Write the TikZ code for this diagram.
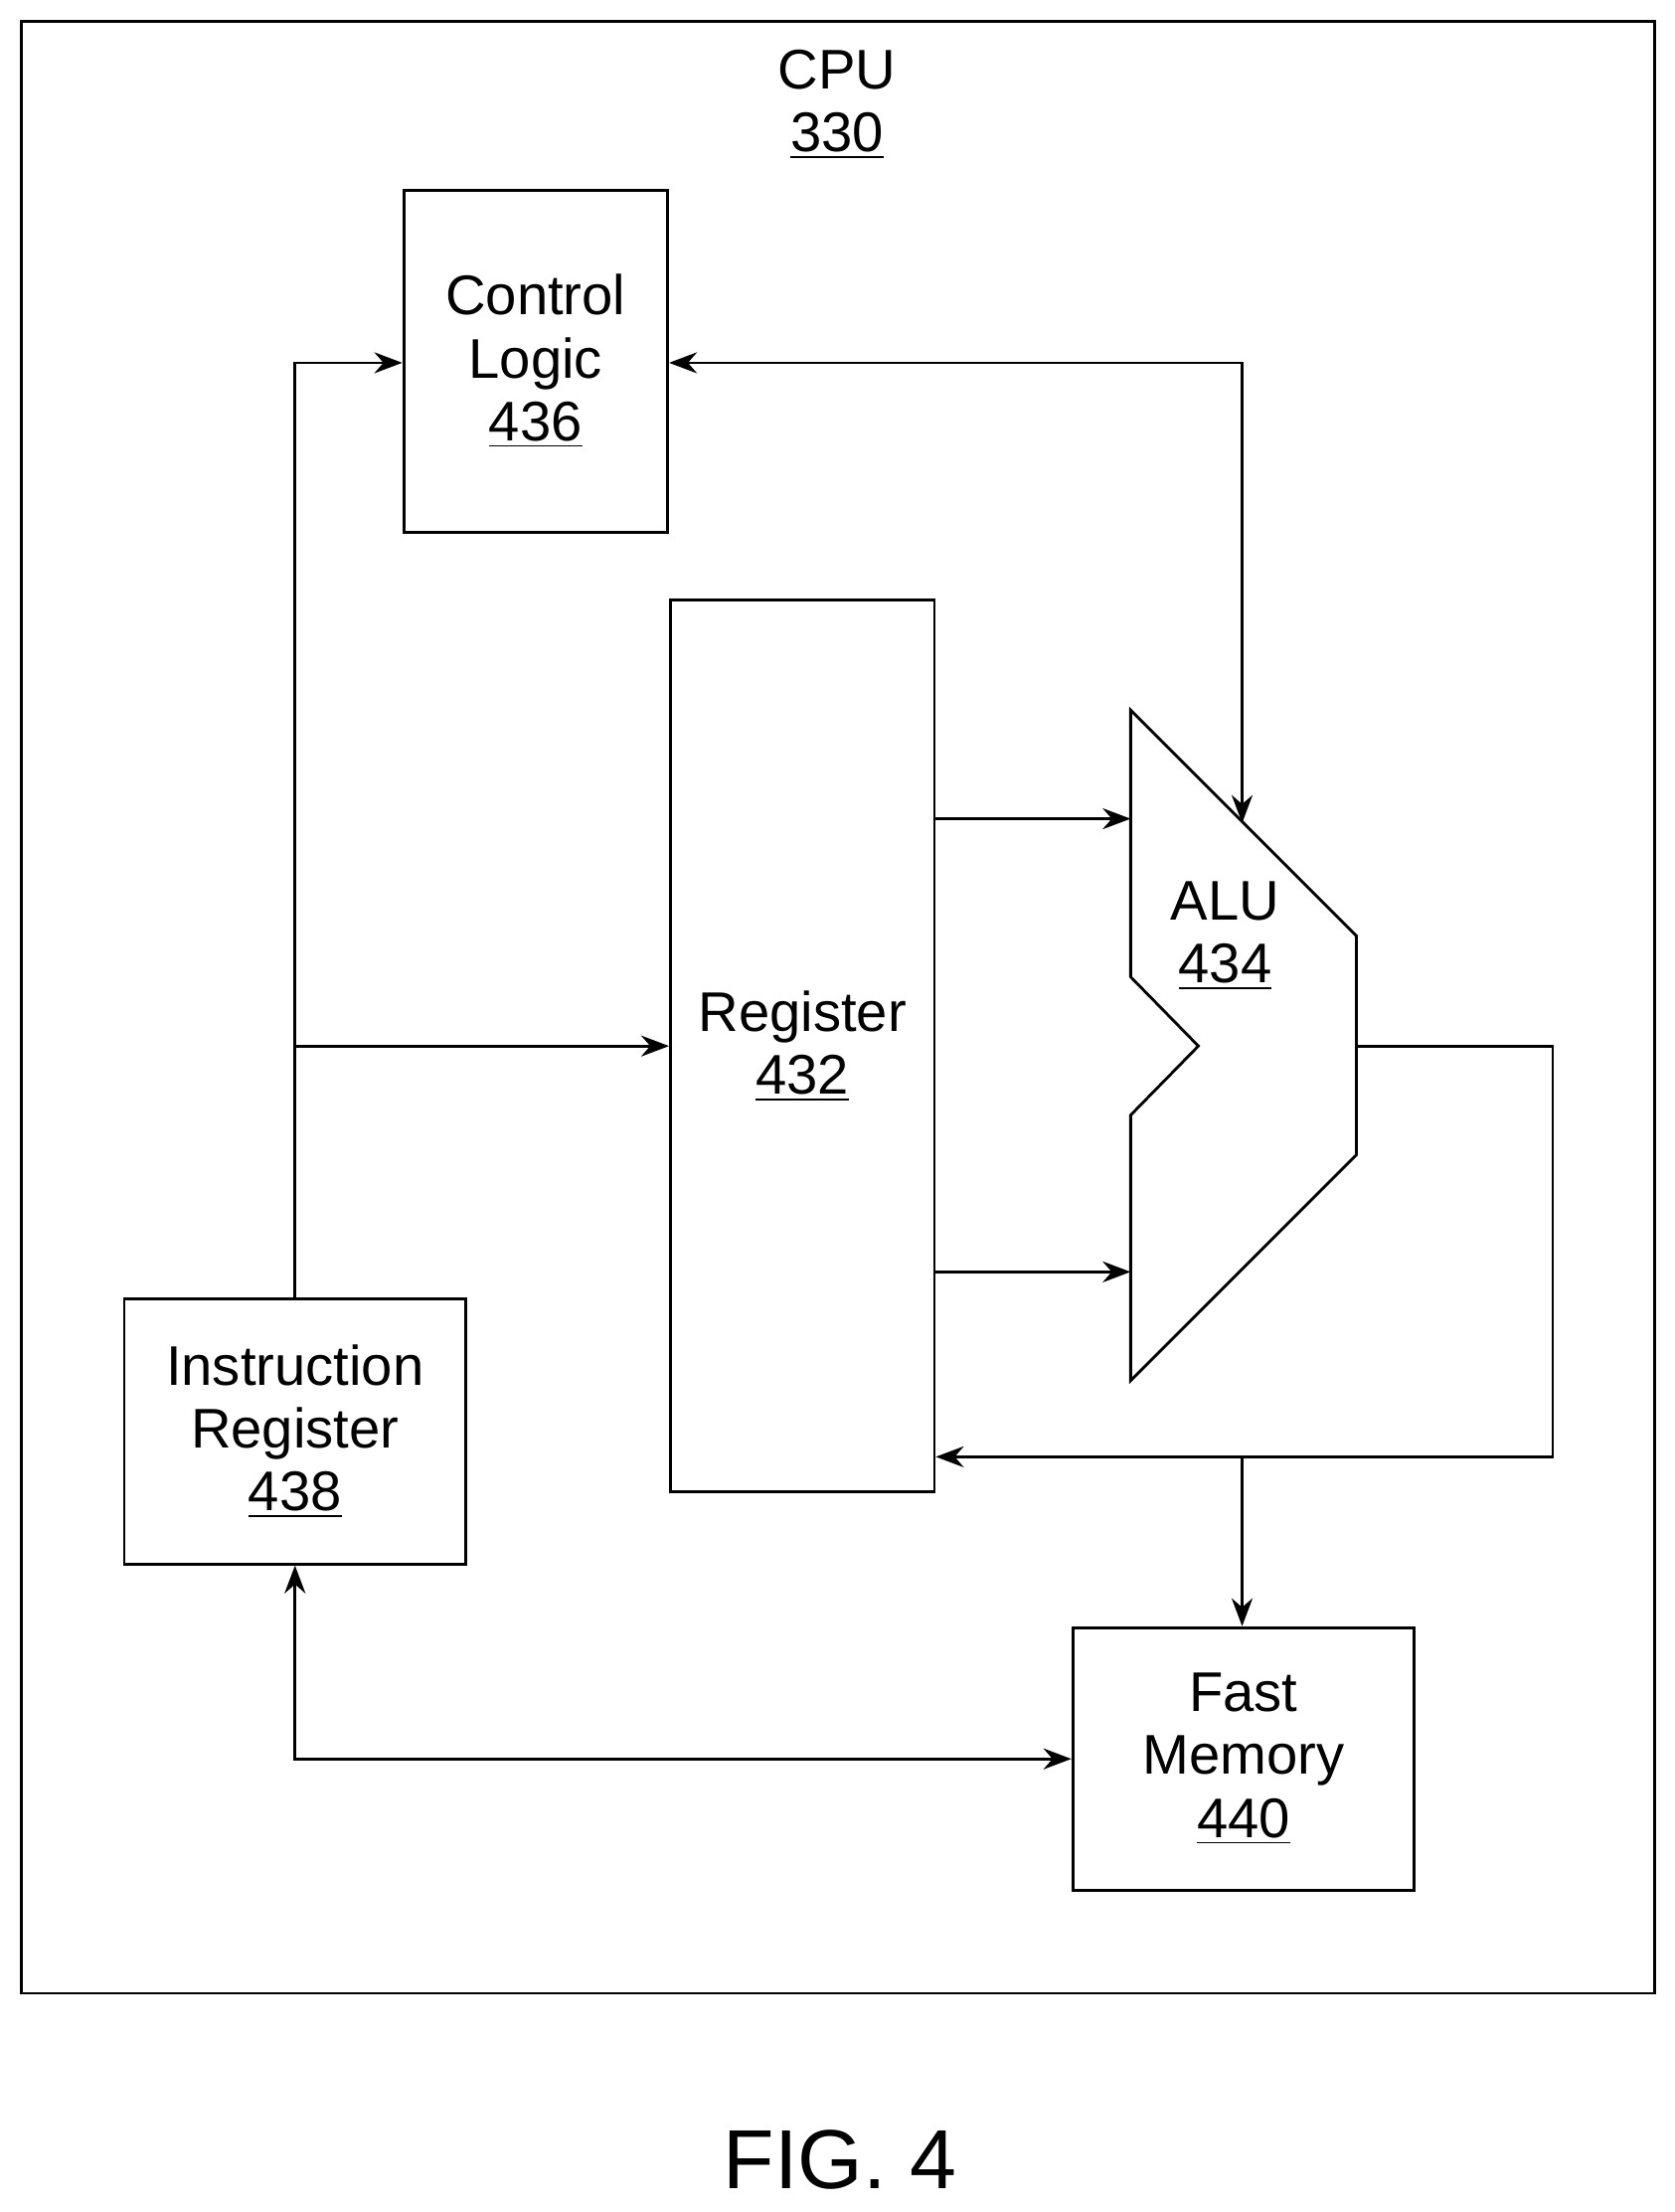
\documentclass[tikz,border=0pt]{standalone}
\usepackage{fontspec}
\setmainfont{Liberation Sans}
\usetikzlibrary{positioning,arrows.meta,calc}

\begin{document}
\begin{tikzpicture}[
  x=0.0142cm, y=-0.0142cm,
  line width=0.8pt,
  >={Stealth[length=8pt,width=6pt]},
  blk/.style={draw, inner sep=0pt, align=center, font=\fontsize{16}{18}\selectfont},
  lbl/.style={align=center, font=\fontsize{16}{18}\selectfont}
]
  \useasboundingbox (0,0) rectangle (1186,1567);
  % Frame
  \draw (15,15) rectangle (1172,1412);
  \node[lbl] (cpu) at (593,74) {CPU\\\underline{330}};
  % Blocks
  \node[blk, minimum width=187*0.0142cm, minimum height=242*0.0142cm] (ctl) at (379.5,256) {Control\\Logic\\\underline{436}};
  \node[blk, minimum width=187*0.0142cm, minimum height=632*0.0142cm] (reg) at (568.5,741) {Register\\\underline{432}};
  \node[blk, minimum width=242*0.0142cm, minimum height=188*0.0142cm] (ir) at (209,1014) {Instruction\\Register\\\underline{438}};
  \node[blk, minimum width=242*0.0142cm, minimum height=186*0.0142cm] (mem) at (881,1246) {Fast\\Memory\\\underline{440}};
  % ALU
  \draw (801,503) -- (961,663) -- (961,818) -- (801,978) -- (801,790)
    -- (849,741) -- (801,692) -- cycle;
  \node[lbl] (alu) at (868,663) {ALU\\\underline{434}};
  \coordinate (aluin1) at (801,580);
  \coordinate (aluin2) at (801,901);
  \coordinate (alutop) at (880,583);
  \coordinate (aluout) at (961,741);
  % Connectors
  \coordinate (irup) at (209,257);
  \coordinate (br) at (209,741);
  \draw[->] (ir.north) -- (irup) -- (ctl.west |- irup);
  \draw[->] (br) -- (reg.west |- br);
  \draw[<->] (ctl.east |- irup) -| (alutop);
  \draw[->] (reg.east |- aluin1) -- (aluin1);
  \draw[->] (reg.east |- aluin2) -- (aluin2);
  \coordinate (fb) at (1100,1032);
  \coordinate (tap) at (880,1032);
  \draw[->] (aluout) -| (fb) -- (reg.east |- fb);
  \draw[->] (tap) -- (mem.north -| tap);
  \draw[<->] (ir.south) |- (mem.west);
  % Caption
  \node[font=\fontsize{24}{28}\selectfont] (fig) at (595,1530) {FIG. 4};
\end{tikzpicture}
\end{document}
